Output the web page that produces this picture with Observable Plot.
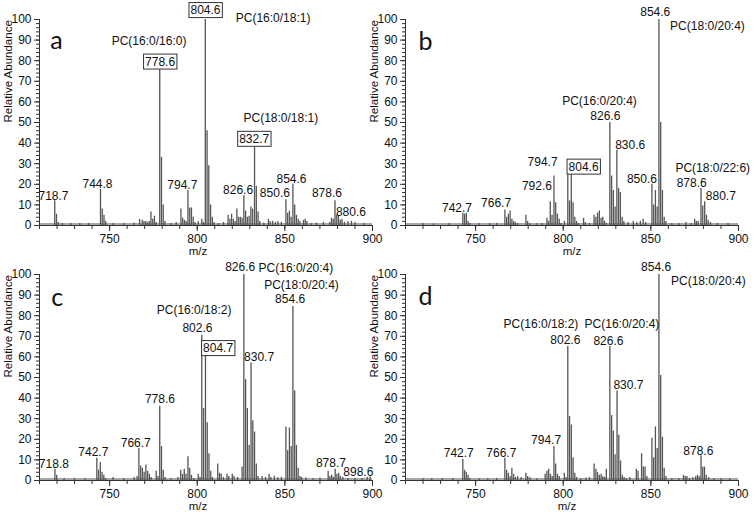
<!DOCTYPE html>
<html>
<head>
<meta charset="utf-8">
<script src="https://cdn.jsdelivr.net/npm/d3@7"></script>
<script src="https://cdn.jsdelivr.net/npm/@observablehq/plot@0.6"></script>
<style>
  html, body { margin: 0; padding: 0; background: #fff; }
  #wrap { position: relative; width: 755px; height: 517px; overflow: hidden; background: #fff; }
  .panel { position: absolute; }
  .panel svg { overflow: visible; }
</style>
</head>
<body>
<div id="wrap"></div>
<script>
// ---------- tick values ----------
const mzDomain = [710, 900];
const xMajor = [750, 800, 850, 900];
const xMinor = [710, 720, 730, 740, 750, 760, 770, 780, 790, 800, 810, 820, 830, 840, 850, 860, 870, 880, 890, 900];
const yMajor = [0, 10, 20, 30, 40, 50, 60, 70, 80, 90, 100];
const yMinor = [0, 2, 4, 6, 8, 10, 12, 14, 16, 18, 20, 22, 24, 26, 28, 30, 32, 34, 36, 38, 40, 42, 44, 46, 48, 50,
  52, 54, 56, 58, 60, 62, 64, 66, 68, 70, 72, 74, 76, 78, 80, 82, 84, 86, 88, 90, 92, 94, 96, 98, 100];
const baseNoise = 0.7;
const xTitle = "m/z";
const yTitle = "Relative Abundance";

// ---------- spectra: [m/z, relative abundance] ----------
const peaksA = [
  [718.7,12],[719.7,5.5],[720.7,1.5],[723,1],[728,1],[733,1],[738,1],
  [744.8,17.5],[745.8,8],[746.8,5],[747.8,2],[752,1],[758,1],[764,1.2],
  [767.1,3],[768.6,2.5],[769.6,2],[770.6,2],[771.6,1.5],[772.6,2],[773.6,6.5],[774.6,3],[775.6,4.5],[776.6,1.5],
  [778.6,76],[779.6,33],[780.6,10],[781.6,2],
  [785,1],[788,1.5],[790.7,8],[791.7,3.5],[792.7,2.5],[793.7,2],[794.7,17],[795.7,8.5],[796.7,8.5],[797.7,4],[798.7,1.5],
  [800.6,2],[802.6,3],[803.6,1.5],[804.6,100],[805.6,46],[806.6,29],[807.6,10],[808.6,4],[809.6,1.5],
  [812,1],[815,1.5],[817.6,5],[818.6,3],[819.6,5.5],[820.6,3],[821.6,2],[822.6,8],[823.6,4],[824.6,4],[825.6,3.5],
  [826.6,14.5],[827.6,7],[828.6,4],[829.6,4.5],[830.6,9],[831.6,8],[832.7,38],[833.7,19],[834.7,6.5],[835.7,2],
  [838,1.2],[840.6,3],[841.6,2],[843,2],[844.6,1.5],[846,2],[848,1.5],
  [850.6,12.5],[851.6,6],[852.6,7],[853.6,4],[854.6,20],[855.6,10],[856.6,5],[857.6,3],[858.6,2],
  [860.6,2.5],[861.6,3],[862.6,2],[865,1],[868,1.2],[872,1.5],[875.6,1.5],
  [876.6,3.5],[877.6,3],[878.6,12],[879.6,5],[880.6,4.5],[881.6,2.5],[882.6,3],[884,1.5],[886,2],[888,2],[890,1.5],[895,1]
];
const peaksB = [
  [720,1],[726,0.8],[735,1],
  [742.7,6],[743.7,5.5],[744.7,6],[745.7,2],[746.7,1],
  [752,1],[758,1],[762,1],
  [766.7,7.5],[767.7,4],[768.7,5.5],[769.7,7],[770.7,3],[771.7,2],[772.7,1.5],[774,1],
  [778.7,5],[779.7,2],[781,1],[785,1],[788,1],
  [790.7,3.5],[791.6,2],[792.6,11.5],[793.6,5],[794.7,24],[795.7,11],[796.7,5.5],[797.7,3],[798.7,1],
  [800.7,2],[802.6,24.5],[803.6,12],[804.6,26],[805.6,11],[806.6,4],[807.6,2],[808.6,1],
  [811.6,3.5],[812.6,1.5],[815,1],
  [817.6,5],[818.6,4],[819.6,6],[820.6,7],[821.6,3.5],[822.6,4],[823.6,2],[824.6,1],
  [826.6,50],[827.6,24],[828.6,17],[829.6,9],[830.6,36.5],[831.6,18],[832.6,16],[833.6,4],[834.6,2],
  [837,1.5],[840,2],[842,1.5],[844,2],[845.6,3],[847,1.5],
  [850.6,20],[851.6,10],[852.6,17],[853.6,9],[854.6,100],[855.6,50],[856.6,17],[857.6,4],[858.6,2],
  [862,1],[866,1],[870,1.5],[873,1],[875,3],[876,2],[877,2],
  [878.6,18],[879.6,9.5],[880.7,11.5],[881.7,5],[882.7,2.5],[884,1.5],[888,1],[894,1]
];
const peaksC = [
  [718.8,5.5],[719.8,2.5],[724,1],[730,1],[736,1],
  [742.7,10.8],[743.7,5],[744.7,8.7],[745.7,4],[746.7,2.5],[747.7,1],[752,1.5],[758,1],
  [764,1.5],[765.7,2],[766.7,15.5],[767.7,7],[768.7,6],[769.7,4],[770.7,7.5],[771.7,4.5],[772.7,3],[773.7,1.5],
  [776.6,4.5],[777.6,2],[778.6,36],[779.6,16.5],[780.6,5],[781.6,1.5],[785,1],
  [789,1.5],[790.6,5],[791.6,3],[792.6,5.5],[793.6,3],[794.7,11.5],[795.7,6],[796.7,2.5],[798,1],
  [800.6,3],[801.6,1.5],[802.6,70.5],[803.6,35],[804.7,61],[805.7,28],[806.7,13],[807.7,4.5],[808.7,1.5],
  [811.7,8],[812.7,3.5],[813.7,3],[815,1.5],[817,3],[818,2],[820,3],[821,2],[823,1.5],
  [825.6,6.5],[826.6,100],[827.6,49],[828.6,35],[829.6,17],[830.7,57],[831.7,29],[832.7,23.5],[833.7,8],[834.7,2],
  [837,2],[839,1.5],[841,3],[842,1.5],[844,2],[846,1.5],[848,1.5],
  [850.6,26],[851.6,14.5],[852.6,25.5],[853.6,16.5],[854.6,84.5],[855.6,43.5],[856.6,17],[857.6,6],[858.6,2],[859.6,1.5],
  [862,1.2],[866,1],[870,1.2],
  [874.7,4.5],[875.7,2],[876.7,2.5],[877.7,1.5],[878.7,5.5],[879.7,3],[880.7,3.5],[881.7,2],[883,1.5],[886,1],[890,1],[894,1],[897,1.5],[898.6,1.8]
];
const peaksD = [
  [720,1],[725,1],[731,1],[737,1],
  [742.7,10.2],[743.7,5],[744.7,4],[745.7,2.5],[746.7,1],[752,1],[757,1],[762,1],
  [766.7,10.8],[767.7,5],[768.7,3.5],[769.7,2],[770.7,6],[771.7,3],[772.7,1.5],[774,2],[776,1.5],[778.7,3.5],[779.7,2],[781,1.5],[785,1],
  [789.7,3],[790.7,4.5],[791.7,5.5],[792.7,3],[793.7,2],[794.7,16.5],[795.7,8],[796.7,3],[797.7,2],
  [800.6,3.5],[801.6,1.5],[802.6,65],[803.6,31],[804.6,27],[805.6,11],[806.6,3.5],[807.6,1.5],
  [810,1],[813,1.2],[815,1.5],
  [817.6,8],[818.6,5.5],[819.6,4],[820.6,2.5],[821.6,3],[822.6,2],[823.6,1.5],[824.6,5.5],
  [826.6,65],[827.6,31.5],[828.6,24],[829.6,12.5],[830.7,43.5],[831.7,22],[832.7,9.5],[833.7,2.5],[834.7,1.5],
  [836,1],[838,1.5],[841.7,5.5],[842.7,4.5],[844.7,13],[845.7,6.5],[846.7,6.5],[847.7,2],
  [850.6,20.5],[851.6,11],[852.6,26],[853.6,15.5],[854.6,100],[855.6,51],[856.6,21],[857.6,6],[858.6,2],
  [862,1],[866,1],[868.6,2.5],[869.6,2],[870.6,2],[872,1],[874,1.5],[875.6,2],[876.6,2.5],[877.6,2],
  [878.6,12],[879.6,6.5],[880.6,6.5],[881.6,2.5],[883,1.5],[886,1],[890,1],[895,1]
];

// ---------- annotations (anchored in data units) ----------
const labelsA = [
  {t:"718.7", x:718, y:14.1}, {t:"744.8", x:743.1, y:20},
  {t:"PC(16:0/16:0)", x:772.5, y:89.5}, {t:"778.6", x:778.8, y:79.5, box:true},
  {t:"804.6", x:804.7, y:104.5, box:true}, {t:"PC(16:0/18:1)", x:843.3, y:100.8},
  {t:"PC(18:0/18:1)", x:847.7, y:52}, {t:"832.7", x:832.5, y:42, box:true},
  {t:"794.7", x:791.5, y:19.8}, {t:"826.6", x:823.3, y:17}, {t:"850.6", x:844.3, y:15.5},
  {t:"854.6", x:853.8, y:22.4}, {t:"878.6", x:874, y:15.5}, {t:"880.6", x:887.7, y:6.5}
];
const labelsB = [
  {t:"742.7", x:739.4, y:8.5}, {t:"766.7", x:761.7, y:10.9}, {t:"792.6", x:785, y:19},
  {t:"794.7", x:788.2, y:30.9}, {t:"804.6", x:811.6, y:28.5, box:true},
  {t:"PC(16:0/20:4)", x:820.7, y:60.5}, {t:"826.6", x:824, y:53.2}, {t:"830.6", x:838.2, y:39},
  {t:"850.6", x:844.9, y:22.3}, {t:"854.6", x:852.5, y:103.6}, {t:"PC(18:0/20:4)", x:882.3, y:97},
  {t:"PC(18:0/22:6)", x:885.3, y:28}, {t:"878.6", x:873.3, y:20.6}, {t:"880.7", x:889.9, y:14.1}
];
const labelsC = [
  {t:"718.8", x:718.2, y:8.1}, {t:"742.7", x:740.7, y:13.8}, {t:"766.7", x:764.9, y:18.1},
  {t:"778.6", x:778.7, y:39.3}, {t:"PC(16:0/18:2)", x:798.2, y:82.5}, {t:"802.6", x:800.1, y:74},
  {t:"804.7", x:811.9, y:64.2, box:true}, {t:"826.6", x:824.5, y:103.6},
  {t:"PC(16:0/20:4)", x:856.3, y:103}, {t:"PC(18:0/20:4)", x:859.5, y:94.7},
  {t:"854.6", x:853, y:87.9}, {t:"830.7", x:835.3, y:59.9}, {t:"878.7", x:876.3, y:8.4}, {t:"898.6", x:891.9, y:4}
];
const labelsD = [
  {t:"742.7", x:740.4, y:13.3}, {t:"766.7", x:764.7, y:13.3}, {t:"794.7", x:790.2, y:19.4},
  {t:"PC(16:0/18:2)", x:787.3, y:75.7}, {t:"PC(16:0/20:4)", x:833.5, y:75.7},
  {t:"802.6", x:801.2, y:68.3}, {t:"826.6", x:825.8, y:67.6}, {t:"830.7", x:837.2, y:46.1},
  {t:"854.6", x:853, y:103.6}, {t:"PC(18:0/20:4)", x:882.8, y:96.6}, {t:"878.6", x:877.1, y:14.2}
];
const panelLetters = [
  {t:"a", x:719.7, y:89.4}, {t:"b", x:721.4, y:89}, {t:"c", x:720.1, y:88.7}, {t:"d", x:721.4, y:89}
];

// ---------- rendering ----------
const FONT = "'Liberation Sans', Arial, Helvetica, sans-serif";
const wrap = document.getElementById("wrap");

function panel({peaks, labels, letter, left, top, width, height, marginRight, marginBottom, titleDx}) {
  const data = peaks.map(([mz, ab]) => ({mz, ab}));
  const svg = Plot.plot({
    width, height,
    marginLeft: 39, marginRight, marginTop: 19, marginBottom,
    style: {fontFamily: FONT, fontSize: "12px", color: "#111", background: "transparent", overflow: "visible"},
    x: {domain: mzDomain},
    y: {domain: [0, 100]},
    marks: [
      Plot.ruleY([baseNoise], {stroke: "#8a8a8a", strokeWidth: 1.6}),
      Plot.ruleX(data, {x: "mz", y1: 0, y2: "ab", stroke: "#555", strokeWidth: 1.3}),
      Plot.ruleY([0], {stroke: "#333", strokeWidth: 1}),
      Plot.ruleX([mzDomain[0]], {y1: 0, y2: 100, stroke: "#333", strokeWidth: 1}),
      Plot.axisX({ticks: xMinor, tickSize: 4, tickFormat: () => "", label: null, stroke: "#333"}),
      Plot.axisX({ticks: xMajor, tickSize: 6, tickPadding: 3, label: null, fontSize: 12, stroke: "#333", fill: "#111"}),
      Plot.axisY({ticks: yMinor, tickSize: 3, tickFormat: () => "", label: null, stroke: "#333"}),
      Plot.axisY({ticks: yMajor, tickSize: 5, tickPadding: 3, label: null, fontSize: 12, stroke: "#333", fill: "#111"}),
      Plot.text([xTitle], {frameAnchor: "bottom", dx: titleDx, dy: 26, fontSize: 11.5, fill: "#111", lineAnchor: "middle"}),
      Plot.text([yTitle], {frameAnchor: "left", rotate: -90, dx: -31, fontSize: 11.5, fill: "#111", lineAnchor: "middle"}),
      Plot.text(labels, {x: "x", y: "y", text: "t", fontSize: 12, fill: "#111", lineAnchor: "middle"}),
      Plot.text([letter], {x: "x", y: "y", text: "t", fontSize: 25, fontFamily: "Lato, 'Open Sans', sans-serif", fill: "#111", lineAnchor: "middle"})
    ]
  });
  const div = document.createElement("div");
  div.className = "panel";
  div.style.left = left + "px";
  div.style.top = top + "px";
  div.appendChild(svg);
  wrap.appendChild(div);
  // draw frames around the boxed peak labels
  const boxed = new Set(labels.filter(d => d.box).map(d => d.t));
  svg.querySelectorAll("text").forEach(t => {
    if (!boxed.has(t.textContent.trim())) return;
    const bb = t.getBBox();
    const r = document.createElementNS("http://www.w3.org/2000/svg", "rect");
    r.setAttribute("x", bb.x - 1.5);
    r.setAttribute("y", bb.y - 0.5);
    r.setAttribute("width", bb.width + 3);
    r.setAttribute("height", bb.height + 1);
    r.setAttribute("fill", "#fff");
    r.setAttribute("stroke", "#333");
    r.setAttribute("stroke-width", "1");
    const tr = t.getAttribute("transform");
    if (tr) r.setAttribute("transform", tr);
    t.parentNode.insertBefore(r, t);
  });
}

panel({peaks: peaksA, labels: labelsA, letter: panelLetters[0], left: 0, top: 0, width: 377, height: 255, marginRight: 5, marginBottom: 30, titleDx: -8});
panel({peaks: peaksB, labels: labelsB, letter: panelLetters[1], left: 366, top: 0, width: 389, height: 255, marginRight: 17, marginBottom: 30, titleDx: 0});
panel({peaks: peaksC, labels: labelsC, letter: panelLetters[2], left: 0, top: 255, width: 377, height: 262, marginRight: 5, marginBottom: 37, titleDx: -8});
panel({peaks: peaksD, labels: labelsD, letter: panelLetters[3], left: 366, top: 255, width: 389, height: 262, marginRight: 17, marginBottom: 37, titleDx: -5});
</script>
</body>
</html>
